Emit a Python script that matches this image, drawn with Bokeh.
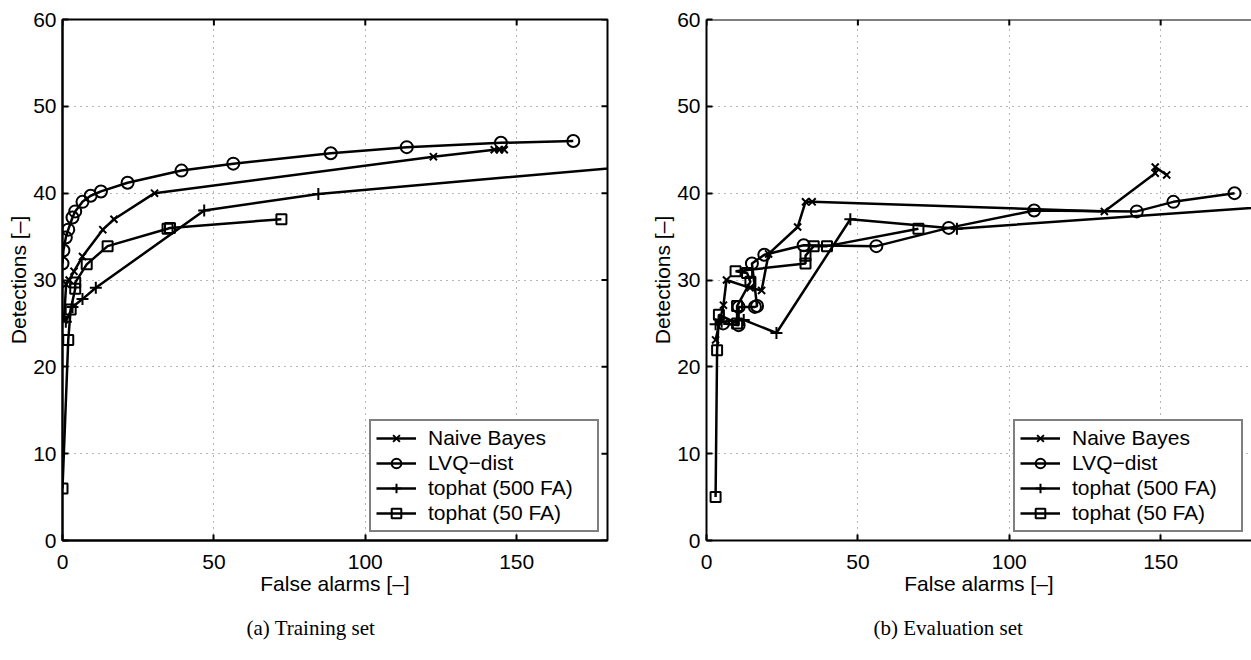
from bokeh.plotting import figure
from bokeh.models import Range1d, FixedTicker, Span, Title
from bokeh.layouts import row
from bokeh.embed import file_html
from bokeh.resources import INLINE

# ---------------- data: (a) Training set ----------------
nb_tr_x = [0.5, 1.2, 2.2, 3.8, 6.6, 13.3, 17.0, 30.4, 122.5, 142.6, 144.3, 145.9]
nb_tr_y = [25.4, 29.5, 30.0, 31.0, 32.7, 35.8, 37.0, 40.0, 44.2, 45.0, 45.0, 45.0]
lvq_tr_x = [0.0, 0.3, 1.1, 1.9, 3.3, 4.2, 6.6, 9.3, 12.7, 21.5, 39.3, 56.4, 88.6, 113.7, 144.8, 168.7]
lvq_tr_y = [31.9, 33.4, 34.9, 35.8, 37.2, 37.9, 39.0, 39.7, 40.2, 41.2, 42.6, 43.4, 44.6, 45.3, 45.8, 46.0]
t500_tr_x = [1.1, 3.3, 6.6, 11.0, 46.8, 84.5, 250.0]
t500_tr_y = [25.2, 26.9, 27.8, 29.1, 38.0, 39.9, 45.0]
t50_tr_x = [0.0, 1.9, 2.7, 4.2, 4.2, 8.0, 14.9, 34.7, 35.5, 72.3]
t50_tr_y = [6.0, 23.1, 26.6, 29.0, 29.7, 31.8, 33.9, 35.9, 36.0, 37.0]

# ---------------- data: (b) Evaluation set ----------------
nb_ev_x = [3.0, 5.6, 6.6, 14.4, 18.2, 20.5, 30.1, 32.7, 34.9, 131.4, 148.2, 148.2, 152.0]
nb_ev_y = [23.1, 27.1, 30.0, 29.1, 28.8, 33.0, 36.1, 39.0, 39.0, 37.9, 42.3, 43.0, 42.1]
lvq_ev_x = [5.5, 10.6, 10.6, 16.0, 16.7, 15.0, 19.1, 32.1, 56.1, 80.0, 108.2, 142.1, 154.2, 174.4]
lvq_ev_y = [25.0, 24.8, 26.9, 26.9, 27.0, 31.9, 32.9, 34.0, 33.9, 36.0, 38.0, 37.9, 39.0, 40.0]
t500_ev_x = [3.0, 5.0, 12.3, 23.1, 47.5, 82.7, 250.0]
t500_ev_y = [24.9, 25.2, 25.4, 23.9, 37.0, 35.9, 40.0]
t50_ev_x = [3.0, 3.5, 4.1, 10.1, 10.1, 14.5, 13.4, 9.6, 32.7, 32.7, 35.4, 39.8, 70.0]
t50_ev_y = [5.0, 21.9, 26.0, 25.0, 27.0, 29.8, 30.8, 31.0, 31.9, 32.8, 33.9, 33.9, 35.9]

series_names = ["Naive Bayes", "LVQ\u2212dist", "tophat (500 FA)", "tophat (50 FA)"]
x_ticks = [0, 50, 100, 150]
y_ticks = [0, 10, 20, 30, 40, 50, 60]
x_grid = [50, 100, 150]
y_grid = [10, 20, 30, 40, 50]
x_label = "False alarms [\u2013]"
y_label = "Detections [\u2013]"
captions = ["(a) Training set", "(b) Evaluation set"]

SANS = "Liberation Sans"
SERIF = "Liberation Serif"
markers = [("x", 10), ("circle", 12), ("cross", 12), ("square", 10)]

FRAME_W = 545
FRAME_H = 521
FIG_H = 660
BORDER_L = 62
BORDER_T = 19
X_MAX = 180.0
PX_PER_X = FRAME_W / X_MAX
PX_PER_Y = FRAME_H / 60.0
TICK_LEN = 6


def style_axis(ax, ticks):
    ax.ticker = FixedTicker(ticks=ticks)
    ax.axis_line_width = 2
    ax.axis_line_color = "black"
    ax.major_tick_in = TICK_LEN
    ax.major_tick_out = 0
    ax.major_tick_line_width = 2
    ax.major_tick_line_color = "black"
    ax.minor_tick_line_color = None
    ax.major_label_text_font = SANS
    ax.major_label_text_font_size = "21px"
    ax.major_label_text_color = "black"
    ax.axis_label_text_font = SANS
    ax.axis_label_text_font_size = "21px"
    ax.axis_label_text_font_style = "normal"
    ax.axis_label_text_color = "black"


def make_fig(border_r, right_box, data, caption, cap_offset):
    width = BORDER_L + FRAME_W + border_r
    p = figure(width=width, height=FIG_H, x_range=Range1d(0, X_MAX), y_range=Range1d(0, 60),
               output_backend="svg", toolbar_location=None,
               min_border_left=BORDER_L, min_border_right=border_r,
               min_border_top=BORDER_T, min_border_bottom=FIG_H - BORDER_T - FRAME_H)
    p.background_fill_color = "white"
    p.border_fill_color = "white"
    if right_box:
        p.outline_line_color = "black"
        p.outline_line_width = 2
    else:
        p.outline_line_color = None
        p.add_layout(Span(location=60, dimension="width", line_color="black", line_width=2))

    style_axis(p.xaxis[0], x_ticks)
    style_axis(p.yaxis[0], y_ticks)
    p.xaxis.axis_label = x_label
    p.yaxis.axis_label = y_label
    p.xaxis.major_label_standoff = 14
    p.xaxis.axis_label_standoff = 0
    p.yaxis.major_label_standoff = 6
    p.yaxis.axis_label_standoff = 0

    p.xgrid.ticker = FixedTicker(ticks=x_grid)
    p.ygrid.ticker = FixedTicker(ticks=y_grid)
    for g in (p.xgrid[0], p.ygrid[0]):
        g.grid_line_color = "#6e6e6e"
        g.grid_line_dash = "1 5"
        g.grid_line_width = 1

    # mirrored inward tick marks on the top (and right) edges of the box
    p.segment(x0=x_ticks, y0=[60] * len(x_ticks), x1=x_ticks,
              y1=[60 - TICK_LEN / PX_PER_Y] * len(x_ticks), line_color="black", line_width=2)
    if right_box:
        p.segment(x0=[X_MAX] * len(y_ticks), y0=y_ticks,
                  x1=[X_MAX - TICK_LEN / PX_PER_X] * len(y_ticks),
                  y1=y_ticks, line_color="black", line_width=2)

    for (xs, ys), name, (mk, sz) in zip(data, series_names, markers):
        p.line(xs, ys, line_color="black", line_width=2.5, legend_label=name)
        p.scatter(xs, ys, marker=mk, size=sz, line_color="black", fill_color=None,
                  line_width=2, legend_label=name)

    lg = p.legend[0]
    lg.location = "bottom_right"
    lg.margin = 8
    lg.padding = 5
    lg.spacing = 1
    lg.label_height = 24
    lg.glyph_height = 24
    lg.glyph_width = 40
    lg.label_width = 164
    lg.label_standoff = 12
    lg.label_text_font = SANS
    lg.label_text_font_size = "21px"
    lg.label_text_color = "black"
    lg.border_line_color = "black"
    lg.border_line_width = 2
    lg.background_fill_color = "white"
    lg.background_fill_alpha = 1.0

    cap = Title(text=caption, align="left", vertical_align="bottom", text_font=SERIF,
                text_font_size="21px", text_font_style="normal", text_color="black",
                standoff=32, offset=cap_offset)
    p.add_layout(cap, "below")
    return p


data_tr = [(nb_tr_x, nb_tr_y), (lvq_tr_x, lvq_tr_y), (t500_tr_x, t500_tr_y), (t50_tr_x, t50_tr_y)]
data_ev = [(nb_ev_x, nb_ev_y), (lvq_ev_x, lvq_ev_y), (t500_ev_x, t500_ev_y), (t50_ev_x, t50_ev_y)]

p1 = make_fig(37, True, data_tr, captions[0], 184)
p2 = make_fig(0, False, data_ev, captions[1], 167)

layout = row(p1, p2)
open("out.html", "w").write(file_html(layout, INLINE))
